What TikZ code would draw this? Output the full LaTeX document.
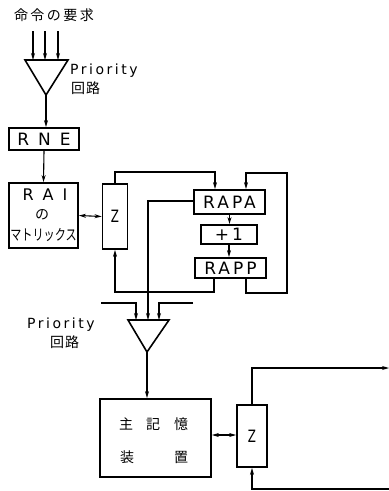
\documentclass[tikz,border=0pt]{standalone}
\usepackage{fontspec}
\usepackage{graphicx}
\setmainfont{DejaVu Sans}
\newfontfamily\plot[LetterSpace=18]{DejaVu Sans}
\newfontfamily\jp{Noto Sans CJK JP}
\usetikzlibrary{arrows.meta}
\begin{document}
\begin{tikzpicture}[x=1pt,y=-1pt,
  blk/.style={draw,line width=1.8pt,inner sep=0pt,font=\plot\fontsize{17}{17}\selectfont},
  wire/.style={line width=1.1pt},
  arr/.style={wire,-{Stealth[length=7pt,width=4pt]}},
  darr/.style={wire,{Stealth[length=7pt,width=4pt]}-{Stealth[length=7pt,width=4pt]}},
  tri/.style={line width=1.6pt,line join=miter},
  lbl/.style={inner sep=0pt,font=\plot\fontsize{14}{14}\selectfont},
  jlbl/.style={inner sep=0pt,font=\jp\fontsize{14}{14}\selectfont}]
\useasboundingbox (0,0) rectangle (389,491);
% title
\node[jlbl] (title) at (54,15) {命\hspace{2.5pt}令\hspace{2.5pt}の\hspace{2.5pt}要\hspace{2.5pt}求};
% triangle 1
\coordinate (t1l) at (25,60); \coordinate (t1r) at (68,60); \coordinate (t1a) at (46,95);
\draw[tri] (t1l) -- (t1r) -- (t1a) -- cycle;
\foreach \x/\n in {33/a,45/b,58/c}{
  \coordinate (in\n) at (\x,31);
  \draw[arr] (in\n) -- (\x,60);
}
\node[lbl,anchor=west] (pr1) at (70,71) {Priority};
\node[jlbl,anchor=west] (ka1) at (71,88) {回\hspace{1pt}路};
% boxes
\node[blk,minimum width=70pt,minimum height=22pt] (rne) at (44,139) {R\hspace{9pt}N\hspace{9pt}E};
\node[blk,minimum width=69pt,minimum height=65pt] (rai) at (43.5,215.5) {};
\node[inner sep=0pt,font=\plot\fontsize{16}{16}\selectfont] (rait) at (45,195) {R\hspace{9pt}A\hspace{9pt}I};
\node[jlbl] (raino) at (42,215) {の};
\node[inner sep=0pt,font=\jp\fontsize{15}{15}\selectfont] (raim) at (43.5,235) {\scalebox{0.74}[1]{マトリックス}};
\node[blk,minimum width=25pt,minimum height=65pt] (z1) at (115,216.5) {\scalebox{0.7}[1]{Z}};
\node[blk,minimum width=71pt,minimum height=24pt] (rapa) at (229.5,202) {RAPA};
\node[blk,minimum width=56pt,minimum height=19pt] (plus) at (229,234.5) {+1};
\node[blk,minimum width=71pt,minimum height=20pt] (rapp) at (230.5,268) {RAPP};
% triangle 2
\coordinate (t2l) at (128,320); \coordinate (t2r) at (169,320); \coordinate (t2a) at (147,352);
\draw[tri] (t2l) -- (t2r) -- (t2a) -- cycle;
\node[lbl,anchor=west] (pr2) at (27,325) {Priority};
\node[jlbl,anchor=west] (ka2) at (50,342) {回\hspace{1pt}路};
% memory
\node[blk,minimum width=111pt,minimum height=78pt] (mem) at (155.5,438) {};
\node[jlbl] (m1) at (126,424) {主};
\node[jlbl] (m2) at (153,424) {記};
\node[jlbl] (m3) at (181,424) {憶};
\node[jlbl] (m4) at (127,457) {装};
\node[jlbl] (m5) at (181,457) {置};
\node[blk,minimum width=30pt,minimum height=62pt] (z2) at (252,436) {\scalebox{0.7}[1]{Z}};
% connectors
\draw[arr] (t1a) -- (rne.north -| t1a);
\draw[arr] (rne.south) -- (rai.north);
\draw[darr] (rai.east) -- (z1.west);
\draw[arr] (z1.north) -- (115,172) -- (215,172) -- (rapa.north -| 215,0);
\draw[arr] (rapa.west |- 0,201) -- (148,201) -- (t2l -| 148,0);
\draw[arr] (rapa.south) -- (plus.north -| rapa.south);
\draw[arr] (plus.south) -- (rapp.north -| plus.south);
\draw[arr] (rapp.south -| 214,0) -- (214,292) -- (115,292) -- (z1.south);
\draw[arr] (rapp.south -| 246,0) -- (246,293) -- (287,293) -- (287,173) -- (246,173) -- (rapa.north -| 246,0);
\coordinate (l2) at (101,303); \coordinate (r2) at (193,303);
\draw[arr] (l2) -- (136,303) -- (t2l -| 136,0);
\draw[arr] (r2) -- (159,303) -- (t2l -| 159,0);
\draw[arr] (t2a) -- (mem.north -| t2a);
\draw[darr] (mem.east |- 0,435) -- (z2.west |- 0,435);
\coordinate (out) at (389,368); \coordinate (back) at (389,489);
\draw[arr] (z2.north) -- (252,368) -- (out);
\draw[arr] (back) -- (252,489) -- (z2.south);
\end{tikzpicture}
\end{document}
